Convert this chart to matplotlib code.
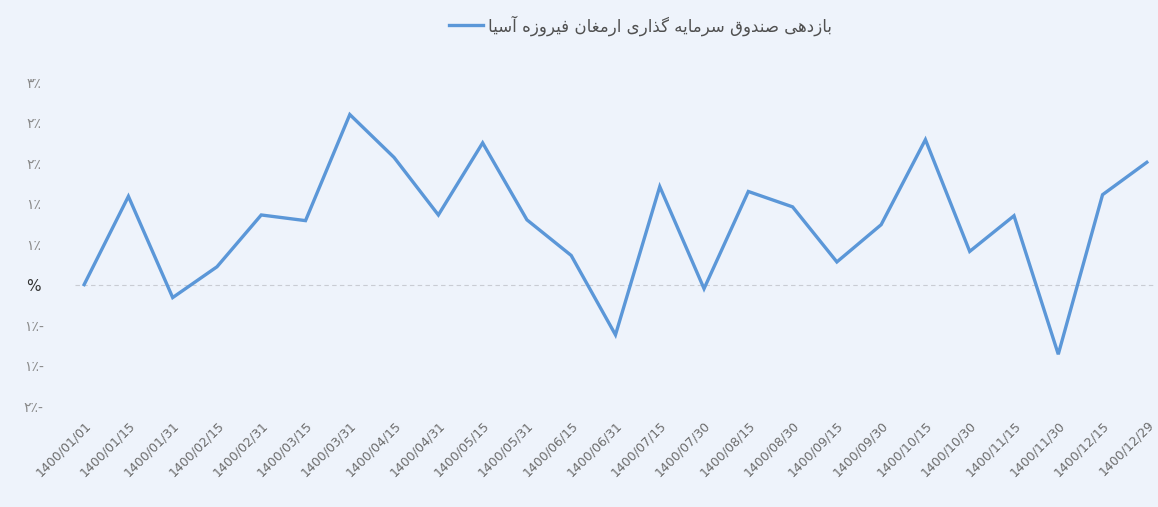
import matplotlib.pyplot as plt
from matplotlib.ticker import FixedLocator

dates = [
    "1400/01/01", "1400/01/15", "1400/01/31", "1400/02/15", "1400/02/31",
    "1400/03/15", "1400/03/31", "1400/04/15", "1400/04/31", "1400/05/15",
    "1400/05/31", "1400/06/15", "1400/06/31", "1400/07/15", "1400/07/30",
    "1400/08/15", "1400/08/30", "1400/09/15", "1400/09/30", "1400/10/15",
    "1400/10/30", "1400/11/15", "1400/11/30", "1400/12/15", "1400/12/29",
]
returns = [
    0.00, 1.09, -0.16, 0.22, 0.86, 0.79, 2.10, 1.57, 0.86, 1.75,
    0.80, 0.36, -0.62, 1.21, -0.05, 1.15, 0.96, 0.28, 0.74, 1.79,
    0.41, 0.85, -0.86, 1.11, 1.51,
]
y_ticks = [-1.5, -1.0, -0.5, 0.0, 0.5, 1.0, 1.5, 2.0, 2.5]
# labels as Excel shows them: rounded to whole percent, Persian digits, visual order
y_labels = ["۲٪-", "۱٪-", "۱٪-", "%", "۱٪", "۱٪", "۲٪", "۲٪", "۳٪"]
series_name = "بازدهی صندوق سرمایه گذاری ارمغان فیروزه آسیا"

# minimal Persian shaping: (isolated, final, initial, medial)
FORMS = {
    "ب": ("\uFE8F", "\uFE90", "\uFE91", "\uFE92"),
    "ا": ("\uFE8D", "\uFE8E", None, None),
    "آ": ("\uFE81", "\uFE82", None, None),
    "ز": ("\uFEAF", "\uFEB0", None, None),
    "د": ("\uFEA9", "\uFEAA", None, None),
    "ذ": ("\uFEAB", "\uFEAC", None, None),
    "ر": ("\uFEAD", "\uFEAE", None, None),
    "و": ("\uFEED", "\uFEEE", None, None),
    "ه": ("\uFEE9", "\uFEEA", "\uFEEB", "\uFEEC"),
    "ی": ("\uFBFC", "\uFBFD", "\uFBFE", "\uFBFF"),
    "ص": ("\uFEB9", "\uFEBA", "\uFEBB", "\uFEBC"),
    "ن": ("\uFEE5", "\uFEE6", "\uFEE7", "\uFEE8"),
    "ق": ("\uFED5", "\uFED6", "\uFED7", "\uFED8"),
    "س": ("\uFEB1", "\uFEB2", "\uFEB3", "\uFEB4"),
    "م": ("\uFEE1", "\uFEE2", "\uFEE3", "\uFEE4"),
    "گ": ("\uFB92", "\uFB93", "\uFB94", "\uFB95"),
    "غ": ("\uFECD", "\uFECE", "\uFECF", "\uFED0"),
    "ف": ("\uFED1", "\uFED2", "\uFED3", "\uFED4"),
}


def shape(text):
    out = []
    for i, ch in enumerate(text):
        if ch not in FORMS:
            out.append(ch)
            continue
        prev = text[i - 1] if i > 0 else " "
        nxt = text[i + 1] if i + 1 < len(text) else " "
        joins_prev = prev in FORMS and FORMS[prev][2] is not None
        joins_next = nxt in FORMS and FORMS[ch][2] is not None
        iso, fin, ini, med = FORMS[ch]
        if joins_prev and joins_next:
            out.append(med)
        elif joins_prev:
            out.append(fin)
        elif joins_next:
            out.append(ini)
        else:
            out.append(iso)
    # right-to-left: reverse into visual order
    return "".join(out)[::-1]


bg = "#eef3fb"
fig = plt.figure(figsize=(11.58, 5.07), dpi=100, facecolor=bg)
ax = fig.add_axes([0.065, 0.199, 0.933, 0.639], facecolor=bg)

x = list(range(len(dates)))
ax.plot(x, returns, color="#5b97d8", linewidth=2.4, label=shape(series_name),
        solid_joinstyle="miter", clip_on=False)
ax.axhline(0, color="#c9ccd3", linewidth=0.8, linestyle=(0, (4, 3)), zorder=0)

ax.set_xlim(-0.2, len(dates) - 0.8)
ax.set_ylim(-1.5, 2.5)
ax.yaxis.set_major_locator(FixedLocator(y_ticks))
ax.set_yticklabels(y_labels, fontsize=10, color="#8a8a8a", family="DejaVu Sans")
for lab in ax.get_yticklabels():
    lab.set_horizontalalignment("center")
    if lab.get_text() == "%":
        lab.set_color("#333333")
        lab.set_fontsize(11)
ax.set_xticks(x)
ax.set_xticklabels(dates, rotation=45, ha="right", rotation_mode="anchor",
                   fontsize=9, color="#6b6b6b")
ax.tick_params(axis="x", length=0, pad=9)
ax.tick_params(axis="y", length=0, pad=30)
for s in ax.spines.values():
    s.set_visible(False)

fig.legend(loc="center", bbox_to_anchor=(0.553, 0.95), frameon=False,
           fontsize=12, handlelength=2.0, handletextpad=0.3,
           labelcolor="#505050")

fig.savefig("out.png", dpi=100, facecolor=bg)
